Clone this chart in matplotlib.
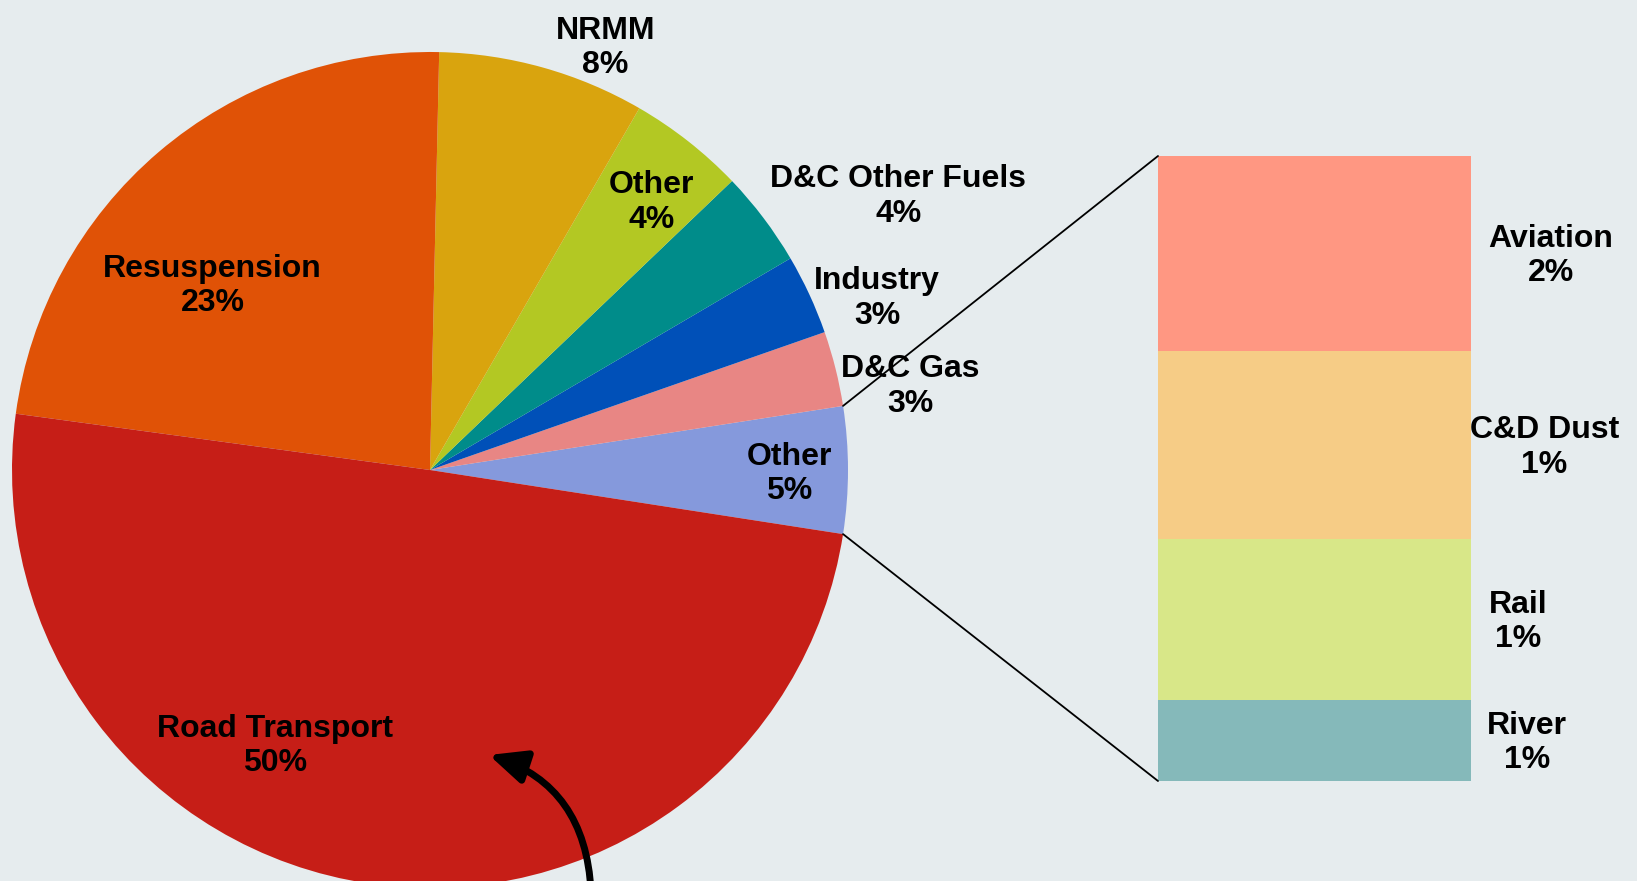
import matplotlib.pyplot as plt
import numpy as np
from matplotlib.patches import ConnectionPatch, FancyArrowPatch

plt.rcParams['font.family'] = ['Liberation Sans', 'DejaVu Sans']

BG = '#E6ECEE'

# main pie, counter-clockwise starting from the "Other" slice that gets broken out
pie_labels = ['Other', 'D&C Gas', 'Industry', 'D&C Other Fuels', 'Other',
              'NRMM', 'Resuspension', 'Road Transport']
pie_values = [4.9, 2.9, 3.1, 3.7, 4.5, 8.0, 23.2, 49.7]
pie_pct = ['5%', '3%', '3%', '4%', '4%', '8%', '23%', '50%']
pie_colors = ['#8599DC', '#E88684', '#0050B8', '#008C8A', '#B3C823',
              '#D9A40E', '#E05206', '#C61E17']
# label spots, in pie radius units
pie_label_xy = [(0.86, -0.01), (1.15, 0.20), (1.07, 0.41), (1.12, 0.655),
                (0.53, 0.64), (0.42, 1.01), (-0.52, 0.44), (-0.37, -0.66)]

# breakdown of "Other 5%"
bar_labels = ['River', 'Rail', 'C&D Dust', 'Aviation']
bar_values = [0.64, 1.27, 1.48, 1.54]
bar_pct = ['1%', '1%', '1%', '2%']
bar_colors = ['#85B9BA', '#D8E788', '#F6CC86', '#FF9782']
bar_label_x = [1.18, 1.15, 1.235, 1.255]

FS = 23
LS = 1.2

fig = plt.figure(figsize=(16.37, 8.81), dpi=100, facecolor=BG)

# pie axes: centre (430, 470) px from top-left, radius 418 px
W, H = 1637, 881
cx, cy, r = 430, 470, 418
ax_pie = fig.add_axes([(cx - r) / W, (H - cy - r) / H, 2 * r / W, 2 * r / H])
ax_pie.set_facecolor(BG)
start = -pie_values[0] * 3.6 / 2
wedges, _ = ax_pie.pie(pie_values, colors=pie_colors, startangle=start,
                       counterclock=True, radius=1)
ax_pie.set_xlim(-1, 1)
ax_pie.set_ylim(-1, 1)
ax_pie.set_aspect('equal')
ax_pie.axis('off')

for lab, pct, (x, y) in zip(pie_labels, pie_pct, pie_label_xy):
    ax_pie.text(x, y, f"{lab}\n{pct}", ha='center', va='center',
                fontsize=FS, fontweight='bold', color='black', linespacing=LS)

# stacked bar axes
ax_bar = fig.add_axes([1158 / W, (H - 781) / H, 313 / W, 625 / H])
ax_bar.set_facecolor(BG)
total = sum(bar_values)
bottom = 0
for val, col, lab, pct, lx in zip(bar_values, bar_colors, bar_labels, bar_pct, bar_label_x):
    ax_bar.bar(0, val, width=1, bottom=bottom, color=col, edgecolor='none')
    ax_bar.text(lx, (bottom + val / 2) / total - 0.004, f"{lab}\n{pct}",
                transform=ax_bar.transAxes, ha='center', va='center',
                fontsize=FS, fontweight='bold', color='black', linespacing=LS)
    bottom += val
ax_bar.set_xlim(-0.5, 0.5)
ax_bar.set_ylim(0, total)
ax_bar.axis('off')

# connector lines from the broken-out wedge to the bar
w0 = wedges[0]
for ang, ybar in [(w0.theta2, total), (w0.theta1, 0)]:
    px, py = np.cos(np.radians(ang)), np.sin(np.radians(ang))
    con = ConnectionPatch(xyA=(-0.5, ybar), coordsA=ax_bar.transData,
                          xyB=(px, py), coordsB=ax_pie.transData,
                          color='black', linewidth=1.3)
    fig.add_artist(con)

# curved arrow pointing into Road Transport (figure pixels)
arrow = FancyArrowPatch((591, -10), (489, 126), transform=None,
                        connectionstyle='angle3,angleA=93,angleB=162',
                        arrowstyle='-|>,head_length=11,head_width=5',
                        mutation_scale=2, color='black', linewidth=5,
                        shrinkA=0, shrinkB=0)
fig.patches.append(arrow)

fig.savefig('out.png', dpi=100, facecolor=BG)
